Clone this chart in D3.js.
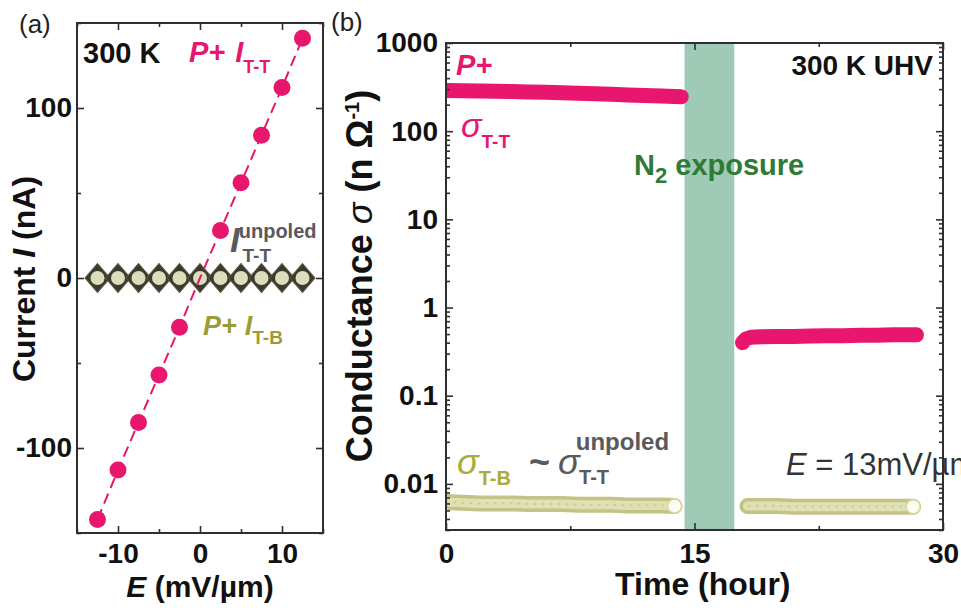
<!DOCTYPE html>
<html>
<head>
<meta charset="utf-8">
<script src="https://cdn.jsdelivr.net/npm/d3@7/dist/d3.min.js"></script>
<style>
  html, body { margin: 0; padding: 0; background: #fff; }
  svg { display: block; }
  text { font-family: "Liberation Sans", Arial, Helvetica, sans-serif; }
</style>
</head>
<body>
<svg id="chart" width="961" height="612"></svg>
<script>
// ---- Panel (a): I–E sweeps at 300 K ----
const fieldE = [-12.5, -10, -7.5, -5, -2.5, 0, 2.5, 5, 7.5, 10, 12.5];
const currentPoledTT = [-142, -113, -85, -57, -29, 0, 28, 56, 84, 112, 141];
const currentUnpoledTT = [0, 0, 0, 0, 0, 0, 0, 0, 0, 0, 0];
const currentPoledTB = [0, 0, 0, 0, 0, 0, 0, 0, 0, 0, 0];
const ticksA_x = [-10, 0, 10];
const minorA_x = [-15, -5, 5, 15];
const ticksA_y = [-100, 0, 100];
const minorA_y = [-150, -50, 50, 150];

// ---- Panel (b): conductance vs time, before/after N2 exposure ----
const timeTT1 = [0, 1, 2, 3, 4, 5, 6, 7, 8, 9, 10, 11, 12, 13, 14.2];
const sigmaTT1 = [290, 288, 286, 284, 281, 279, 276, 273, 270, 266, 262, 258, 254, 250, 246];
const timeTT2 = [17.9, 18.1, 18.4, 19, 20, 21, 22, 23, 24, 25, 26, 27, 28.4];
const sigmaTT2 = [0.40, 0.44, 0.46, 0.465, 0.47, 0.47, 0.475, 0.48, 0.48, 0.485, 0.485, 0.49, 0.49];
const timeTB1 = [-0.5, 0.3, 1, 2, 3, 4, 5, 6, 7, 8, 9, 10, 11, 12, 13, 13.8];
const sigmaTB1 = [0.0067, 0.0062, 0.0061, 0.006, 0.006, 0.006, 0.0059, 0.0059, 0.0059, 0.0058, 0.0058, 0.0058, 0.0057, 0.0057, 0.0057, 0.0056];
const timeTB2 = [18.2, 19, 20, 21, 22, 23, 24, 25, 26, 27, 28.2];
const sigmaTB2 = [0.0056, 0.0056, 0.0056, 0.0055, 0.0055, 0.0055, 0.0055, 0.0055, 0.0055, 0.0055, 0.0055];
const exposureWindow = [14.4, 17.4];
const ticksB_x = [0, 15, 30];
const minorB_x = [7.5, 22.5];
const ticksB_y = [0.01, 0.1, 1, 10, 100, 1000];
const tickLabelsB_y = ["0.01", "0.1", "1", "10", "100", "1000"];

const PINK = "#e8176d";
const OLIVE_TXT = "#9c9c34";
const GREY_TXT = "#5a5a5a";
const FRAME = "#2f2f2f";
const FONT = "Liberation Sans, Arial, sans-serif";

const svg = d3.select("#chart");

// scales
const xA = d3.scaleLinear().domain([-15, 15]).range([77, 323]);
const yA = d3.scaleLinear().domain([-150, 150]).range([533, 23]);
const xB = d3.scaleLinear().domain([0, 30]).range([446, 943]);
const yB = d3.scaleLog().domain([0.003, 1000]).range([530, 43]);

// ---------- helpers ----------
function frame(g, x, y) {
  g.append("rect")
    .attr("x", x.range()[0]).attr("y", y.range()[1])
    .attr("width", x.range()[1] - x.range()[0])
    .attr("height", y.range()[0] - y.range()[1])
    .attr("fill", "none").attr("stroke", FRAME).attr("stroke-width", 2);
}
function mirroredAxes(g, x, y, xMaj, xMin, yMaj, yMin) {
  const x0 = x.range()[0], x1 = x.range()[1], y0 = y.range()[0], y1 = y.range()[1];
  const addX = (vals, len) => {
    g.append("g").attr("transform", `translate(0,${y0})`)
      .call(d3.axisTop(x).tickValues(vals).tickSize(len).tickFormat(""))
      .call(s => s.select(".domain").remove());
    g.append("g").attr("transform", `translate(0,${y1})`)
      .call(d3.axisBottom(x).tickValues(vals).tickSize(len).tickFormat(""))
      .call(s => s.select(".domain").remove());
  };
  const addY = (vals, len) => {
    g.append("g").attr("transform", `translate(${x0},0)`)
      .call(d3.axisRight(y).tickValues(vals).tickSize(len).tickFormat(""))
      .call(s => s.select(".domain").remove());
    g.append("g").attr("transform", `translate(${x1},0)`)
      .call(d3.axisLeft(y).tickValues(vals).tickSize(len).tickFormat(""))
      .call(s => s.select(".domain").remove());
  };
  addX(xMaj, 7); addX(xMin, 4); addY(yMaj, 7); addY(yMin, 4);
  g.selectAll(".tick line").attr("stroke", FRAME).attr("stroke-width", 1.6);
}
function styleTickText(sel) {
  sel.selectAll("text").attr("font-size", 28).attr("font-weight", "bold")
    .attr("fill", "#111").attr("font-family", FONT);
}
// rich text: parts = [{t, it, sub, sup, size, fill, w, dx}]
function richText(g, x, y, parts, opts = {}) {
  const t = g.append("text").attr("x", x).attr("y", y)
    .attr("font-size", opts.size || 28)
    .attr("font-weight", opts.weight || "bold")
    .attr("fill", opts.fill || "#222")
    .attr("text-anchor", opts.anchor || "start");
  if (opts.transform) t.attr("transform", opts.transform);
  let shift = 0;
  parts.forEach(p => {
    const s = t.append("tspan").text(p.t);
    let dy = 0;
    if (p.sub) dy = p.sub; else if (p.sup) dy = -p.sup;
    s.attr("dy", dy - shift);
    shift = dy;
    if (p.size) s.attr("font-size", p.size);
    if (p.it) s.attr("font-style", "italic");
    if (p.fill) s.attr("fill", p.fill);
    if (p.w) s.attr("font-weight", p.w);
    if (p.dx) s.attr("dx", p.dx);
  });
  return t;
}

// ================= Panel (a) =================
const gA = svg.append("g");
const ptsTT = fieldE.map((e, i) => [e, currentPoledTT[i]]);

// P+ I_T-T point at E = 0 sits behind the flat rows
gA.append("g").selectAll("circle")
  .data(ptsTT.filter(d => d[0] === 0))
  .join("circle")
  .attr("cx", d => xA(d[0])).attr("cy", d => yA(d[1])).attr("r", 8.5).attr("fill", PINK);

// unpoled I_T-T : dark diamonds
const diamond = d3.symbol().type(d3.symbolDiamond2).size(440);
gA.append("g").selectAll("path")
  .data(fieldE.map((e, i) => [e, currentUnpoledTT[i]]))
  .join("path")
  .attr("d", diamond)
  .attr("transform", d => `translate(${xA(d[0])},${yA(d[1])}) scale(0.95,1.1)`)
  .attr("fill", "#3b3b2b").attr("stroke", "#55553f").attr("stroke-width", 1);

// P+ I_T-B : pale circles
gA.append("g").selectAll("circle")
  .data(fieldE.map((e, i) => [e, currentPoledTB[i]]))
  .join("circle")
  .attr("cx", d => xA(d[0])).attr("cy", d => yA(d[1])).attr("r", 7)
  .attr("fill", "#efefcd").attr("opacity", 0.9);

// dashed guide through the P+ I_T-T points
const lineA = d3.line().x(d => xA(d[0])).y(d => yA(d[1]));
gA.append("path")
  .datum(ptsTT)
  .attr("d", lineA).attr("fill", "none").attr("stroke", PINK)
  .attr("stroke-width", 2).attr("stroke-dasharray", "11,6");

gA.append("g").selectAll("circle")
  .data(ptsTT.filter(d => d[0] !== 0))
  .join("circle")
  .attr("cx", d => xA(d[0])).attr("cy", d => yA(d[1])).attr("r", 8.5).attr("fill", PINK);

frame(gA, xA, yA);
mirroredAxes(gA, xA, yA, ticksA_x, minorA_x, ticksA_y, minorA_y);

// tick labels (plain hyphen minus, as printed)
gA.append("g").attr("transform", `translate(0,${yA.range()[0]})`)
  .call(d3.axisBottom(xA).tickValues(ticksA_x).tickSize(0).tickPadding(10).tickFormat(d => String(d)))
  .call(s => s.select(".domain").remove())
  .call(styleTickText);
gA.append("g").attr("transform", `translate(${xA.range()[0]},0)`)
  .call(d3.axisLeft(yA).tickValues(ticksA_y).tickSize(0).tickPadding(5).tickFormat(d => String(d)))
  .call(s => s.select(".domain").remove())
  .call(styleTickText);

// labels
svg.append("text").attr("x", 19).attr("y", 33).attr("font-size", 26).attr("fill", "#222").text("(a)");
richText(gA, 83, 63, [{t: "300 K"}], {size: 29, fill: "#111"});
richText(gA, 189, 62, [
  {t: "P+", it: true}, {t: "I", it: true, dx: 10},
  {t: "T-T", sub: 11, size: 18}
], {size: 29, fill: PINK});
richText(gA, 230, 252, [
  {t: "I", it: true, size: 35},
  {t: "unpoled", sup: 14, size: 20, dx: -1},
  {t: "T-T", size: 19, sub: 10, dx: -74}
], {size: 29, fill: GREY_TXT});
richText(gA, 203, 335, [
  {t: "P+", it: true}, {t: "I", it: true, dx: 8},
  {t: "T-B", sub: 9, size: 19}
], {size: 27, fill: OLIVE_TXT});

// axis titles
richText(svg, 0, 0, [
  {t: "Current  "}, {t: "I", it: true}, {t: " (nA)"}
], {size: 32, fill: "#111", anchor: "middle", transform: "translate(35,279) rotate(-90)"});
richText(svg, xA(0), 597, [
  {t: "E", it: true}, {t: " (mV/\u00b5m)"}
], {size: 30, fill: "#111", anchor: "middle"});

// ================= Panel (b) =================
const gB = svg.append("g");
svg.append("defs").append("clipPath").attr("id", "plotB")
  .append("rect")
  .attr("x", xB.range()[0]).attr("y", yB.range()[1])
  .attr("width", xB.range()[1] - xB.range()[0])
  .attr("height", yB.range()[0] - yB.range()[1]);
const gData = gB.append("g").attr("clip-path", "url(#plotB)");

gData.append("rect")
  .attr("x", xB(exposureWindow[0])).attr("y", yB.range()[1])
  .attr("width", xB(exposureWindow[1]) - xB(exposureWindow[0]))
  .attr("height", yB.range()[0] - yB.range()[1])
  .attr("fill", "#9fcab6");

const lineB = d3.line().x(d => xB(d[0])).y(d => yB(d[1]));

// sigma_T-B segments: pale band of overlapping open circles
[[timeTB1, sigmaTB1], [timeTB2, sigmaTB2]].forEach(([ts, vs]) => {
  const pts = ts.map((t, i) => [t, vs[i]]);
  gData.append("path").datum(pts).attr("d", lineB).attr("fill", "none")
    .attr("stroke", "#c3c385").attr("stroke-width", 16).attr("stroke-linecap", "round");
  gData.append("path").datum(pts).attr("d", lineB).attr("fill", "none")
    .attr("stroke", "#e0e0b4").attr("stroke-width", 9).attr("stroke-linecap", "round");
  gData.append("path").datum(pts).attr("d", lineB).attr("fill", "none")
    .attr("stroke", "#cdcd96").attr("stroke-width", 2).attr("stroke-dasharray", "3,5");
  const last = pts[pts.length - 1];
  gData.append("circle").attr("cx", xB(last[0])).attr("cy", yB(last[1])).attr("r", 7)
    .attr("fill", "#fbfbee").attr("stroke", "#d6d6a8").attr("stroke-width", 1.5);
});

// sigma_T-T segments: solid pink band
[[timeTT1, sigmaTT1], [timeTT2, sigmaTT2]].forEach(([ts, vs], k) => {
  const pts = ts.map((t, i) => [t, vs[i]]);
  if (k === 0) pts.unshift([-0.5, vs[0]]);
  gData.append("path").datum(pts).attr("d", lineB).attr("fill", "none")
    .attr("stroke", PINK).attr("stroke-width", 15).attr("stroke-linecap", "round")
    .attr("stroke-linejoin", "round");
});

frame(gB, xB, yB);
const minorLog = [];
[0.001, 0.01, 0.1, 1, 10, 100].forEach(d => { for (let k = 2; k <= 9; k++) minorLog.push(d * k); });
mirroredAxes(gB, xB, yB, ticksB_x, minorB_x, ticksB_y, minorLog.filter(v => v >= 0.003 && v < 1000));

gB.append("g").attr("transform", `translate(0,${yB.range()[0]})`)
  .call(d3.axisBottom(xB).tickValues(ticksB_x).tickSize(0).tickPadding(13).tickFormat(d => String(d)))
  .call(s => s.select(".domain").remove())
  .call(styleTickText);
gB.append("g").attr("transform", `translate(${xB.range()[0]},0)`)
  .call(d3.axisLeft(yB).tickValues(ticksB_y).tickSize(0).tickPadding(8).tickFormat((d, i) => tickLabelsB_y[i]))
  .call(s => s.select(".domain").remove())
  .call(styleTickText);

svg.append("text").attr("x", 331).attr("y", 31).attr("font-size", 26).attr("fill", "#222").text("(b)");

richText(gB, 933, 75, [{t: "300 K UHV"}], {size: 28, fill: "#111", anchor: "end"});
richText(gB, 456, 75, [{t: "P+", it: true}], {size: 29, fill: PINK});
richText(gB, 461, 137, [
  {t: "\u03c3", it: true, size: 34, w: "normal"},
  {t: "T-T", sub: 11, size: 19}
], {size: 29, fill: PINK});
richText(gB, 634, 175, [
  {t: "N"}, {t: "2", sub: 8, size: 22}, {t: " exposure", sub: 0}
], {size: 29, fill: "#2f7b35"});

richText(gB, 457, 474, [
  {t: "\u03c3", it: true, size: 36, w: "normal"},
  {t: "T-B", sub: 11, size: 20}
], {size: 29, fill: "#abab3a"});
richText(gB, 529, 474, [
  {t: "~", size: 36},
  {t: "\u03c3", it: true, size: 36, w: "normal", dx: 8},
  {t: "unpoled", sup: 24, size: 24, dx: -4},
  {t: "T-T", sub: 10, size: 20, dx: -90}
], {size: 29, fill: GREY_TXT});
richText(gB, 786, 475, [
  {t: "E", it: true}, {t: " = 13mV/\u00b5m"}
], {size: 31, fill: "#333", weight: "normal"});

richText(svg, 0, 0, [
  {t: "Conductance "}, {t: "\u03c3", it: true, w: "normal"}, {t: " (n \u03a9"},
  {t: "-1", sup: 13, size: 20}, {t: ")", sup: 0}
], {size: 36, fill: "#111", anchor: "middle", transform: "translate(372,276) rotate(-90)"});
richText(svg, xB(15.5), 595, [{t: "Time (hour)"}], {size: 32, fill: "#111", anchor: "middle"});
</script>
</body>
</html>
